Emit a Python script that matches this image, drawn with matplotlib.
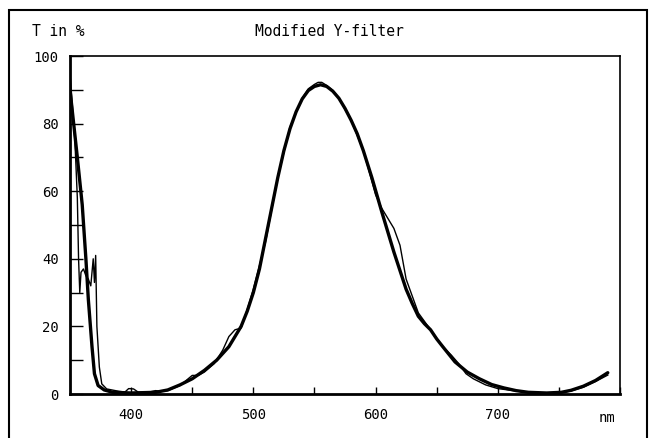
import matplotlib
matplotlib.use("Agg")
import matplotlib.pyplot as plt
from matplotlib.patches import Rectangle

# ---- data ----
target_nm = [350, 353, 356, 360, 363, 365, 368, 370, 373, 378, 385, 400, 420, 430,
             440, 450, 460, 470, 480, 490, 495, 500, 505, 510, 515, 520, 525, 530,
             535, 540, 545, 550, 555, 560, 565, 570, 575, 580, 585, 590, 597, 605,
             610, 615, 620, 625, 630, 635, 640, 645, 650, 655, 665, 675, 685, 695,
             705, 715, 725, 740, 752, 760, 770, 780, 790]
target_T = [90, 80, 70, 56, 40, 28, 14, 6, 2.5, 1.2, 0.5, 0.3, 0.5, 1.2,
            2.7, 4.5, 7, 10, 14, 20, 24.5, 30, 37, 46, 55, 64, 72, 78.5,
            83.5, 87.3, 89.8, 91, 91.5, 91, 89.6, 87.5, 84.5, 81, 77, 72, 64, 54,
            48, 42, 36.5, 31, 26.8, 23, 20.8, 19, 16.3, 14, 9.5, 6.5, 4.5, 2.8,
            1.8, 1.0, 0.5, 0.3, 0.5, 1.1, 2.3, 4, 6.3]

measured_nm = [350, 352, 354, 356, 357, 358, 359, 361, 363, 365, 367, 368, 369, 370,
               371, 372, 374, 376, 380, 390, 395, 398, 402, 406, 415, 420, 425, 430,
               440, 445, 450, 455, 460, 468, 475, 480, 485, 490, 495, 500, 510, 520,
               530, 540, 545, 550, 553, 556, 560, 565, 570, 580, 590, 600, 605, 610,
               615, 620, 625, 635, 645, 655, 662, 668, 674, 680, 690, 700, 715, 725,
               740, 752, 760, 770, 780, 790]
measured_T = [95, 85, 75, 58, 40, 30, 36, 37, 35, 34, 32, 36, 40, 33,
              41, 20, 8, 3, 1.5, 0.8, 0.6, 1.6, 1.5, 0.5, 0.6, 1.0, 0.8, 1.0,
              2.5, 4.0, 5.5, 5.5, 6.5, 9, 13, 17, 19, 19.5, 25, 31, 45, 64,
              79, 87.5, 90.3, 91.6, 92.2, 92.2, 91.3, 89.8, 87.5, 81, 72, 59, 55, 52,
              49, 44, 34, 24, 19, 14, 11.5, 9, 6, 4.5, 2.7, 1.6, 0.9, 0.4,
              0.2, 0.4, 0.9, 2.0, 3.7, 5.6]

x_labels = [400, 500, 600, 700]
y_labels = [0, 20, 40, 60, 80, 100]

mono = "DejaVu Sans Mono"

fig = plt.figure(figsize=(6.49, 4.38), dpi=100)
W, H = 649, 438
ax = fig.add_axes([70 / W, 1 - 394 / H, 550 / W, 338 / H])

ax.plot(target_nm, target_T, color="black", lw=2.4, solid_capstyle="round",
        solid_joinstyle="round")
ax.plot(measured_nm, measured_T, color="black", lw=1.0)

ax.set_xlim(350, 800)
ax.set_ylim(0, 100)

ax.set_xticks(list(range(400, 801, 50)))
ax.set_xticklabels([str(v) if v in x_labels else "" for v in range(400, 801, 50)],
                   fontfamily=mono, fontsize=10)
ax.set_yticks(list(range(0, 101, 10)))
ax.set_yticklabels([str(v) if v in y_labels else "" for v in range(0, 101, 10)],
                   fontfamily=mono, fontsize=10)
ax.tick_params(axis="x", direction="in", length=5, width=1.0, pad=10)
ax.tick_params(axis="y", direction="in", length=9, width=1.0, pad=8)

for side in ["bottom", "left"]:
    ax.spines[side].set_linewidth(2.0)
for side in ["top", "right"]:
    ax.spines[side].set_linewidth(1.2)

fig.text(32 / W, 1 - 32 / H, "T in %", fontfamily=mono, fontsize=10.5,
         ha="left", va="center")
fig.text(255 / W, 1 - 32 / H, "Modified Y-filter", fontfamily=mono, fontsize=10.5,
         ha="left", va="center")
fig.text(607 / W, 1 - 418 / H, "nm", fontfamily=mono, fontsize=10,
         ha="center", va="center")

# outer frame
fig.patches.append(Rectangle((9 / W, -0.05), (647 - 9) / W, 1.05 - 10 / H,
                             transform=fig.transFigure, fill=False,
                             edgecolor="black", lw=1.5))

fig.savefig("out.png", dpi=100)
